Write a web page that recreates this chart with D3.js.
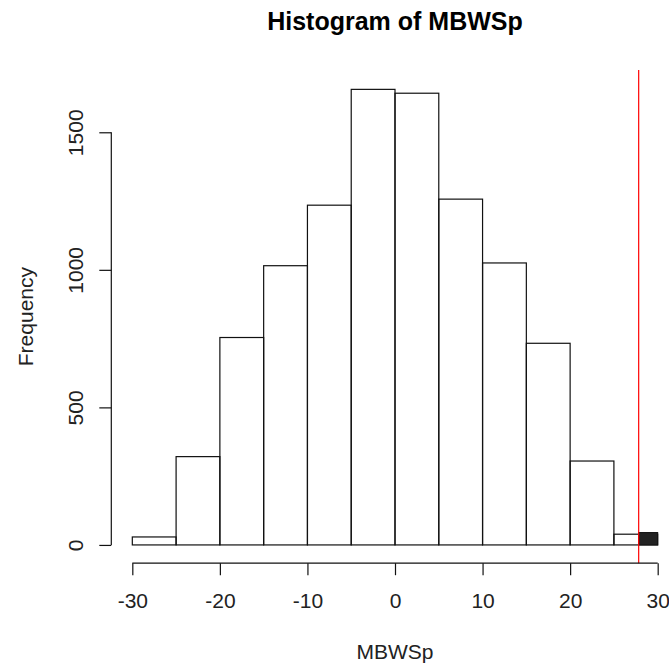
<!DOCTYPE html>
<html>
<head>
<meta charset="utf-8">
<script src="https://cdn.jsdelivr.net/npm/d3@7"></script>
<style>
  body { margin: 0; background: #fff; }
  svg { display: block; font-family: "Liberation Sans", Arial, sans-serif; }
</style>
</head>
<body>
<div id="chart"></div>
<script>
// Histogram bins (left edges, width 5) and counts
const binStarts = [-30, -25, -20, -15, -10, -5, 0, 5, 10, 15, 20, 25];
const binWidth = 5;
const counts = [29, 321, 754, 1015, 1235, 1656, 1642, 1257, 1025, 733, 305, 39];

// Cut-off marked in red, and the shaded tail beyond it
const cutoff = 27.83;
const tail = [{ from: 27.83, to: 30, count: 45 }];

const xTicks = [-30, -20, -10, 0, 10, 20, 30];
const yTicks = [0, 500, 1000, 1500];

const width = 669, height = 666;
const plot = { left: 111.3, right: 678.7, top: 70, bottom: 563.2 };

const svg = d3.select('#chart').append('svg')
  .attr('width', width)
  .attr('height', height);

// R style: axis limits padded 4% past the data range
const x = d3.scaleLinear().domain([-32.4, 32.4]).range([plot.left, plot.right]);
const y = d3.scaleLinear().domain([-66.4, 1726.4]).range([plot.bottom, plot.top]);

// plain hyphen minus like R, not the unicode minus d3.format gives
const plain = d => String(d);

// Bars
svg.append('g')
  .selectAll('rect')
  .data(binStarts.map((s, i) => ({ s, n: counts[i] })))
  .join('rect')
  .attr('x', d => x(d.s))
  .attr('y', d => y(d.n))
  .attr('width', d => x(d.s + binWidth) - x(d.s))
  .attr('height', d => y(0) - y(d.n))
  .attr('fill', 'none')
  .attr('stroke', '#111')
  .attr('stroke-width', 1.2);

// Shaded tail
svg.append('g')
  .selectAll('rect')
  .data(tail)
  .join('rect')
  .attr('x', d => x(d.from))
  .attr('y', d => y(d.count))
  .attr('width', d => x(d.to) - x(d.from))
  .attr('height', d => y(0) - y(d.count))
  .attr('fill', '#222')
  .attr('stroke', '#111');

// Red cut-off line over the whole plot region
svg.append('line')
  .attr('x1', x(cutoff)).attr('x2', x(cutoff))
  .attr('y1', plot.top).attr('y2', plot.bottom)
  .attr('stroke', '#ff0000')
  .attr('stroke-width', 1.2);

// X axis
const xAxis = svg.append('g')
  .attr('transform', `translate(0,${plot.bottom})`)
  .call(d3.axisBottom(x).tickValues(xTicks).tickSize(12).tickPadding(18).tickFormat(plain));
xAxis.select('.domain').remove();
xAxis.append('line')
  .attr('x1', x(xTicks[0])).attr('x2', x(xTicks[xTicks.length - 1]))
  .attr('stroke', '#111').attr('stroke-width', 1.2);
xAxis.selectAll('.tick line').attr('stroke', '#111').attr('stroke-width', 1.2);
xAxis.selectAll('text')
  .attr('font-size', 21)
  .attr('font-family', '"Liberation Sans", Arial, sans-serif')
  .attr('fill', '#222');

// Y axis
const yAxis = svg.append('g')
  .attr('transform', `translate(${plot.left},0)`)
  .call(d3.axisLeft(y).tickValues(yTicks).tickSize(12).tickFormat(plain));
yAxis.select('.domain').remove();
yAxis.append('line')
  .attr('y1', y(yTicks[0])).attr('y2', y(yTicks[yTicks.length - 1]))
  .attr('stroke', '#111').attr('stroke-width', 1.2);
yAxis.selectAll('.tick line').attr('stroke', '#111').attr('stroke-width', 1.2);
yAxis.selectAll('text')
  .attr('transform', 'rotate(-90)')
  .attr('x', 0)
  .attr('y', -28.5)
  .attr('dy', 0)
  .attr('text-anchor', 'middle')
  .attr('font-size', 21)
  .attr('font-family', '"Liberation Sans", Arial, sans-serif')
  .attr('fill', '#222');

const midX = (plot.left + plot.right) / 2;

// Title and axis labels
svg.append('text')
  .attr('x', midX).attr('y', 29.5)
  .attr('text-anchor', 'middle')
  .attr('font-size', 25)
  .attr('font-weight', 'bold')
  .attr('fill', '#000')
  .text('Histogram of MBWSp');

svg.append('text')
  .attr('x', midX).attr('y', 659)
  .attr('text-anchor', 'middle')
  .attr('font-size', 21)
  .attr('fill', '#222')
  .text('MBWSp');

svg.append('text')
  .attr('transform', `translate(33,${(plot.top + plot.bottom) / 2}) rotate(-90)`)
  .attr('text-anchor', 'middle')
  .attr('font-size', 21)
  .attr('fill', '#222')
  .text('Frequency');
</script>
</body>
</html>
